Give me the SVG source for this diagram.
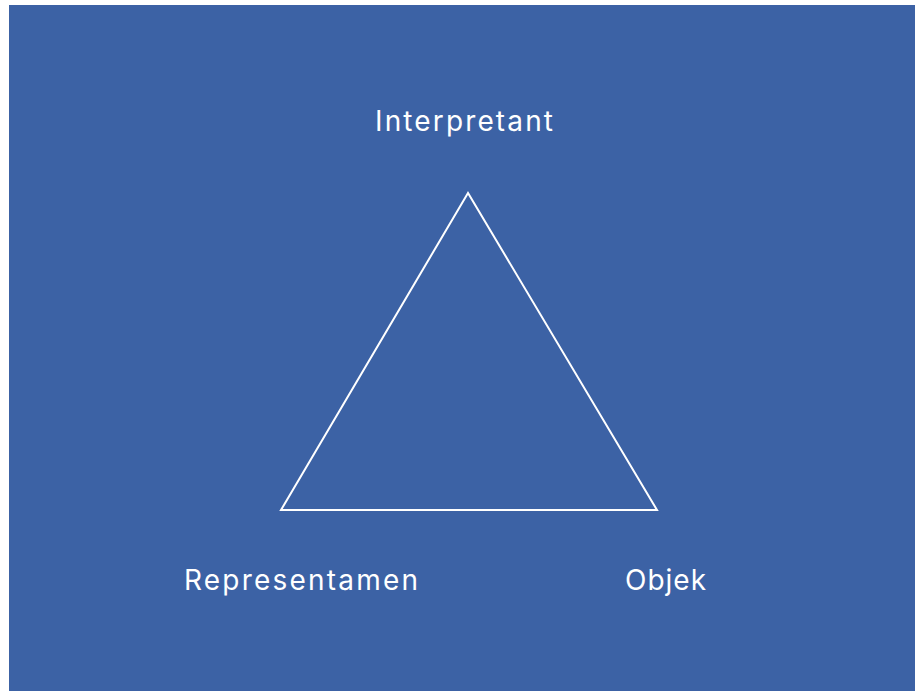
<svg xmlns="http://www.w3.org/2000/svg" width="915" height="691" viewBox="0 0 915 691">
<style>
.lbl{font-family:"Inter","Noto Sans","Liberation Sans",sans-serif;font-size:28px;fill:#ffffff;}
.edge{stroke:#ffffff;stroke-width:2;fill:none;stroke-linejoin:miter;}
</style>
<rect x="0" y="0" width="915" height="691" fill="#ffffff"/>
<rect x="9" y="5" width="906" height="686" fill="#3c62a5"/>
<g id="connectors">
<polygon class="edge" points="468,193 281,510 657,510"/>
</g>
<g id="interpretant"><text class="lbl" x="375" y="131" textLength="178" lengthAdjust="spacing">Interpretant</text></g>
<g id="representamen"><text class="lbl" x="184" y="590" textLength="234" lengthAdjust="spacing">Representamen</text></g>
<g id="objek"><text class="lbl" x="625" y="590" textLength="81" lengthAdjust="spacing">Objek</text></g>
</svg>
